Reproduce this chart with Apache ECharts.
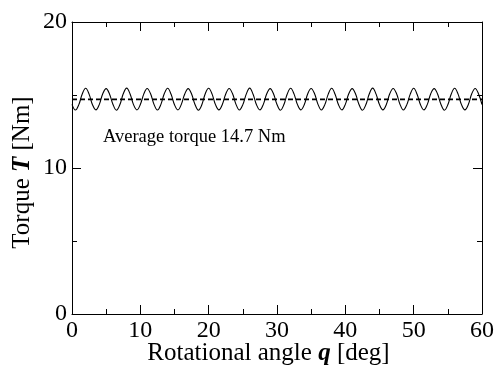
<!DOCTYPE html>
<html>
<head>
<meta charset="utf-8">
<script src="https://cdn.jsdelivr.net/npm/echarts@6/dist/echarts.min.js"></script>
<style>
  html, body { margin: 0; padding: 0; background: #fff; }
  #chart { width: 496px; height: 366px; }
</style>
</head>
<body>
<div id="chart"></div>
<script>
// sampled every 0.5 deg from 0 to 60 deg
const angleStep = 0.5;
const torque = [
  14.36, 13.97, 14.34, 15.07, 15.46, 15.06,
  14.33, 13.98, 14.36, 15.09, 15.44, 15.05,
  14.35, 13.96, 14.33, 15.08, 15.47, 15.07,
  14.34, 13.98, 14.35, 15.06, 15.45, 15.08,
  14.36, 13.97, 14.34, 15.08, 15.46, 15.05,
  14.33, 13.98, 14.36, 15.07, 15.44, 15.07,
  14.35, 13.96, 14.33, 15.09, 15.46, 15.06,
  14.34, 13.98, 14.35, 15.07, 15.45, 15.08,
  14.36, 13.97, 14.34, 15.06, 15.47, 15.05,
  14.33, 13.98, 14.36, 15.08, 15.44, 15.07,
  14.35, 13.96, 14.33, 15.07, 15.46, 15.06,
  14.34, 13.98, 14.35, 15.09, 15.45, 15.08,
  14.36, 13.97, 14.34, 15.06, 15.46, 15.05,
  14.33, 13.98, 14.36, 15.08, 15.44, 15.07,
  14.35, 13.96, 14.33, 15.07, 15.47, 15.06,
  14.34, 13.98, 14.35, 15.08, 15.45, 15.08,
  14.36, 13.97, 14.34, 15.06, 15.46, 15.05,
  14.33, 13.98, 14.36, 15.09, 15.44, 15.07,
  14.35, 13.96, 14.33, 15.07, 15.46, 15.06,
  14.34, 13.98, 14.35, 15.08, 15.45, 15.07,
  14.35
];
const avgAngles = [0, 60];
const avgTorque = [14.7, 14.7];
const avgLabel = 'Average torque 14.7 Nm';

const font = '"Liberation Serif", "Times New Roman", serif';

const chart = echarts.init(document.getElementById('chart'), null, { renderer: 'canvas' });

const frameAxis = {
  axisLine: { show: true, onZero: false, lineStyle: { color: '#000', width: 1 } },
  axisTick: { show: true, inside: true, length: 9, lineStyle: { color: '#000', width: 1 } },
  minorTick: { show: true, splitNumber: 2, length: 5, lineStyle: { color: '#000', width: 1 } },
  splitLine: { show: false },
  minorSplitLine: { show: false }
};

const nameRich = {
  n: { fontFamily: font, fontSize: 25, color: '#000' },
  b: { fontFamily: font, fontSize: 25, color: '#000', fontWeight: 'bold', fontStyle: 'italic' }
};

const option = {
  animation: false,
  backgroundColor: '#fff',
  grid: { left: 72, right: 14, top: 22, bottom: 52, outerBoundsMode: 'none', containLabel: false },
  xAxis: [
    {
      ...frameAxis,
      type: 'value',
      min: 0,
      max: 60,
      interval: 10,
      position: 'bottom',
      axisLabel: { color: '#000', fontFamily: font, fontSize: 24, margin: 5 },
      name: '{n|Rotational angle }{b|q}{n| [deg]}',
      nameLocation: 'middle',
      nameGap: 27,
      nameMoveOverlap: false,
      nameTextStyle: { rich: nameRich, padding: [0, 17, 0, 0] }
    },
    {
      ...frameAxis,
      type: 'value',
      min: 0,
      max: 60,
      interval: 10,
      position: 'top',
      axisLabel: { show: false }
    }
  ],
  yAxis: [
    {
      ...frameAxis,
      type: 'value',
      min: 0,
      max: 20,
      interval: 10,
      position: 'left',
      axisLabel: { color: '#000', fontFamily: font, fontSize: 24, margin: 5 },
      name: '{n|Torque }{b|T}{n| [Nm]}',
      nameLocation: 'middle',
      nameGap: 37,
      nameRotate: 90,
      nameMoveOverlap: false,
      nameTextStyle: { rich: nameRich, padding: [0, 9, 0, 0] }
    },
    {
      ...frameAxis,
      type: 'value',
      min: 0,
      max: 20,
      interval: 10,
      position: 'right',
      axisLabel: { show: false }
    }
  ],
  series: [
    {
      name: 'Torque',
      type: 'line',
      smooth: 0.4,
      showSymbol: false,
      lineStyle: { color: '#000', width: 1.1 },
      data: torque.map((v, i) => [i * angleStep, v])
    },
    {
      name: 'Average',
      type: 'line',
      showSymbol: false,
      lineStyle: { color: '#000', width: 1.8, type: [5, 3] },
      data: avgTorque.map((v, i) => [avgAngles[i], v])
    }
  ],
  graphic: [
    {
      type: 'text',
      left: 103,
      top: 128,
      style: { text: avgLabel, font: '18.5px ' + font, fill: '#000' }
    }
  ]
};

chart.setOption(option);
</script>
</body>
</html>
